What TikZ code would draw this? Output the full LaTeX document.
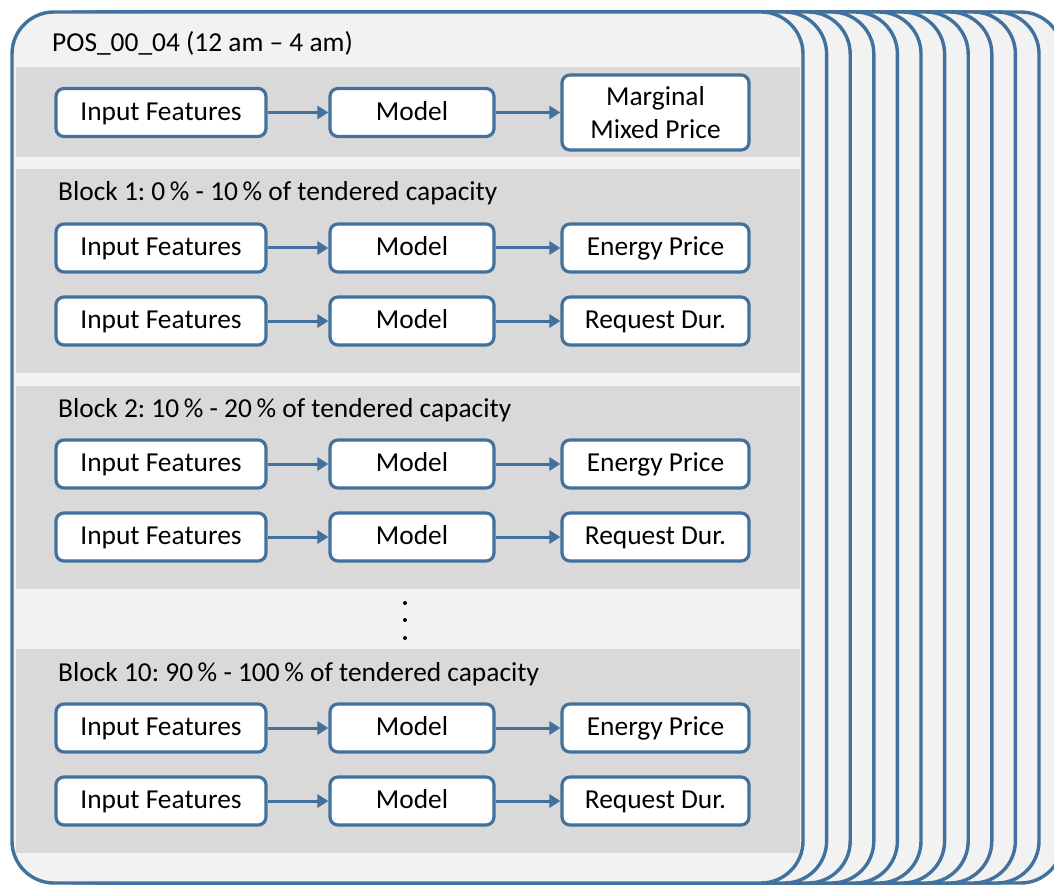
\documentclass[tikz,border=0pt]{standalone}
\usepackage{fontspec}
\setmainfont{Carlito}
\usetikzlibrary{arrows.meta}
\definecolor{frame}{HTML}{41719C}
\definecolor{cardbg}{HTML}{F2F2F2}
\definecolor{panelbg}{HTML}{D9D9D9}
\frenchspacing
\begin{document}
\begin{tikzpicture}[x=1pt,y=-1pt,
  font=\fontsize{27.4}{33}\selectfont,
  card/.style={draw=frame, line width=3.4pt, fill=cardbg, rounded corners=42pt},
  panel/.style={fill=panelbg},
  box/.style={draw=frame, line width=3.2pt, fill=white, rounded corners=8pt,
    inner sep=0pt, minimum height=48pt},
  line/.style={text height=21.5pt, text depth=5.9pt},
  inbox/.style={box, line, minimum width=210pt},
  modelbox/.style={box, line, minimum width=164pt},
  outbox/.style={box, minimum width=187pt},
  heading/.style={anchor=base west, inner sep=0pt},
  flow/.style={draw=frame, line width=3pt, -{Triangle[length=11pt,width=13pt]}},
  dot/.style={circle, fill=black, inner sep=0pt, minimum size=4pt}]
\useasboundingbox (0,0) rectangle (1054,885);
\clip (0,0) rectangle (1054,885);

% stack of product cards, back to front
\foreach \i in {11,...,1}
  \draw[card] ({12+23.6*\i},12) rectangle ({803+23.6*\i},883);
\draw[card] (12,12) rectangle (803,883);

% grey bands inside the front card
\fill[panel] (16,67)  rectangle (800,157);
\fill[panel] (16,169) rectangle (800,373);
\fill[panel] (16,386) rectangle (800,589);
\fill[panel] (16,649) rectangle (800,853);

% headings
\node[heading] (title) at (52,52) {POS\_00\_04 (12 am – 4 am)};
\node[heading] (h1)  at (58,201) {Block 1: 0\,\% - 10\,\% of tendered capacity};
\node[heading] (h2)  at (58,417) {Block 2: 10\,\% - 20\,\% of tendered capacity};
\node[heading] (h10) at (58,681) {Block 10: 90\,\% - 100\,\% of tendered capacity};

% marginal mixed price pipeline
\node[inbox] (in-m) at (161,112.5) {Input Features};
\node[modelbox] (mod-m) at (412,112.5) {Model};
\node[outbox, align=center, minimum height=75pt] (out-m) at (655.5,112.5) {Marginal\\Mixed Price};
\draw[flow] (in-m) -- (mod-m);
\draw[flow] (mod-m) -- (out-m);

% per-block pipelines
\foreach \n/\y/\t in {e1/248/Energy Price, r1/321/Request Dur.,
                      e2/464/Energy Price, r2/537/Request Dur.,
                      e10/728/Energy Price, r10/801/Request Dur.} {
  \node[inbox] (in-\n) at (161,\y) {Input Features};
  \node[modelbox] (mod-\n) at (412,\y) {Model};
  \node[outbox, line] (out-\n) at (655.5,\y) {\t};
  \draw[flow] (in-\n) -- (mod-\n);
  \draw[flow] (mod-\n) -- (out-\n);
}

% ellipsis between block 2 and block 10
\node[dot] (d1) at (405,603) {};
\node[dot] (d2) at (405,620) {};
\node[dot] (d3) at (405,638) {};
\end{tikzpicture}
\end{document}
